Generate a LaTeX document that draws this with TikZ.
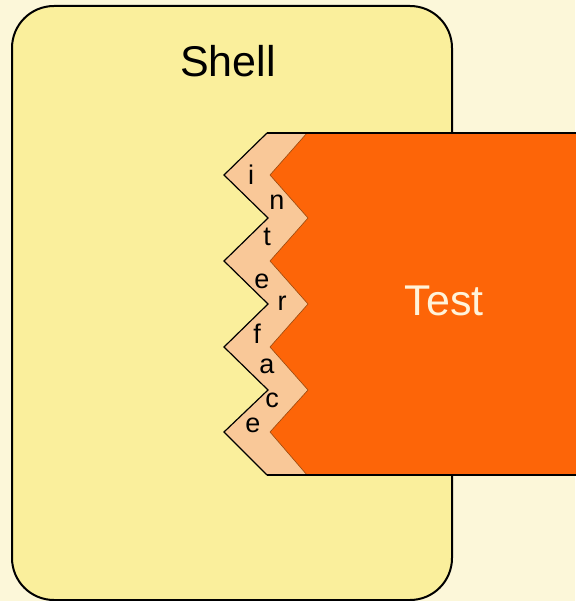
\documentclass[tikz,border=0pt]{standalone}
\usepackage{fontspec}
\setmainfont{Liberation Sans}
\definecolor{bgcol}{HTML}{FCF7D9}
\definecolor{shellfill}{HTML}{FAEF9C}
\definecolor{testfill}{HTML}{FD6508}
\definecolor{ifill}{HTML}{F9C898}
\definecolor{testtext}{HTML}{FFF3DA}
\definecolor{edgecol}{HTML}{9A4A10}
\begin{document}
\begin{tikzpicture}[x=1pt,y=-1pt,
  outline/.style={draw=black,line width=2pt},
  bigtext/.style={font=\fontsize{43}{43}\selectfont,inner sep=0pt,anchor=base},
  letter/.style={font=\fontsize{27}{27}\selectfont,inner sep=0pt,anchor=base,text=black}]
\fill[bgcol] (0,0) rectangle (575,601);
\useasboundingbox (0,0) rectangle (575,601);
% Shell
\draw[outline,fill=shellfill,rounded corners=42pt] (12,6) rectangle (452,600);
\node[bigtext] (shelllabel) at (228,77) {Shell};
% interface band
\fill[ifill] (267,133) -- (307,133) -- (270,175) -- (308,218) -- (270,261) -- (308,304)
  -- (270,347) -- (308,390) -- (270,432) -- (307,475) -- (267,475)
  -- (224,432) -- (268,390) -- (224,347) -- (268,304) -- (224,261) -- (268,218) -- (224,175) -- cycle;
\draw[line width=1.2pt,line join=miter] (267,133) -- (224,175) -- (268,218) -- (224,261) -- (268,304)
  -- (224,347) -- (268,390) -- (224,432) -- (267,475);
% Test
\fill[testfill] (307,133) -- (580,133) -- (580,475) -- (307,475) -- (270,432) -- (308,390)
  -- (270,347) -- (308,304) -- (270,261) -- (308,218) -- (270,175) -- cycle;
\draw[edgecol,line width=0.6pt] (307,133) -- (270,175) -- (308,218) -- (270,261) -- (308,304)
  -- (270,347) -- (308,390) -- (270,432) -- (307,475);
\draw[outline] (267,133) -- (580,133);
\draw[outline] (267,475) -- (580,475);
\node[bigtext,text=testtext] (testlabel) at (444,315) {Test};
% interface letters
\node[letter] (l1) at (251,185) {i};
\node[letter] (l2) at (277,210) {n};
\node[letter] (l3) at (267,245) {t};
\node[letter] (l4) at (262,288) {e};
\node[letter] (l5) at (282,310) {r};
\node[letter] (l6) at (257,343) {f};
\node[letter] (l7) at (267,373) {a};
\node[letter] (l8) at (272,407) {c};
\node[letter] (l9) at (253,432) {e};
\end{tikzpicture}
\end{document}
